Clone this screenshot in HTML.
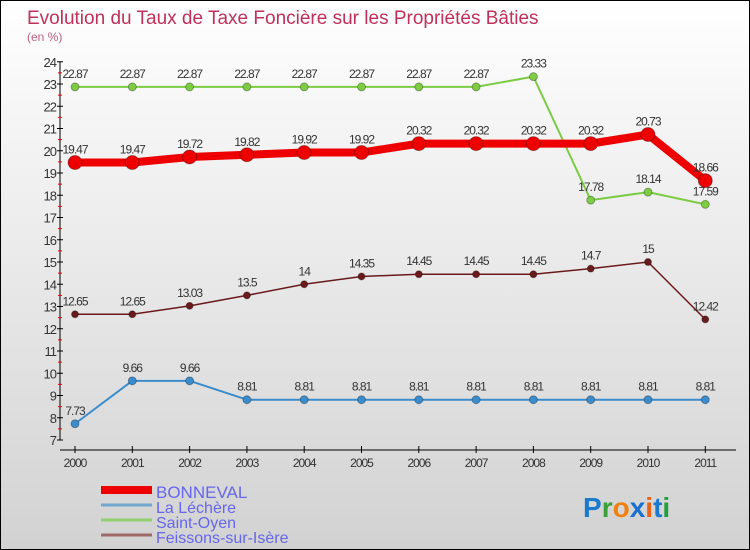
<!DOCTYPE html>
<html><head><meta charset="utf-8"><style>
body{margin:0}
#c{width:748px;height:548px;border:1px solid #000;background:linear-gradient(#fff,#d2d2d2);position:relative;overflow:hidden;font-family:"Liberation Sans",sans-serif}
</style></head><body>
<div id="c">
<svg id="s" width="748" height="548"></svg>
</div>
<script>
const years=["2000","2001","2002","2003","2004","2005","2006","2007","2008","2009","2010","2011"];
const bonneval=[19.47,19.47,19.72,19.82,19.92,19.92,20.32,20.32,20.32,20.32,20.73,18.66];
const lecheres=[7.73,9.66,9.66,8.81,8.81,8.81,8.81,8.81,8.81,8.81,8.81,8.81];
const saintOyen=[22.87,22.87,22.87,22.87,22.87,22.87,22.87,22.87,23.33,17.78,18.14,17.59];
const feissons=[12.65,12.65,13.03,13.5,14,14.35,14.45,14.45,14.45,14.7,15,12.42];
const yTicks=[7,8,9,10,11,12,13,14,15,16,17,18,19,20,21,22,23,24];
const s=document.getElementById('s');const NS='http://www.w3.org/2000/svg';
function x(i){return 74+i*57.3;}
function y(v){return 439-(v-7)*22.25;}
function el(t,a,txt){const e=document.createElementNS(NS,t);for(const k in a)e.setAttribute(k,a[k]);if(txt!==undefined)e.textContent=txt;s.appendChild(e);return e;}
let e;
e=el('text',{x:26,y:23,fill:'#c0305a','font-size':19},'Evolution du Taux de Taxe Foncière sur les Propriétés Bâties');

e=el('text',{x:26,y:40,fill:'#c06080','font-size':12},'(en %)');

e=el('line',{x1:59,y1:y(24),x2:59,y2:y(7),stroke:'#000'});

yTicks.forEach(v=>{el('line',{x1:56,x2:62,y1:y(v),y2:y(v),stroke:'#000'});
 if(v<24)el('line',{x1:57,x2:61,y1:y(v+0.5),y2:y(v+0.5),stroke:'#e00'});
 e=el('text',{x:55,y:y(v)+5,'text-anchor':'end','font-size':13,fill:'#333','letter-spacing':'-1'},v);
 });
e=el('line',{x1:59,y1:449,x2:735,y2:449,stroke:'#000'});

years.forEach((yr,i)=>{el('line',{x1:x(i),x2:x(i),y1:445,y2:452,stroke:'#000'});
 e=el('text',{x:x(i),y:466,'text-anchor':'middle','font-size':12,fill:'#333','letter-spacing':'-1'},yr);
 });
function series(d,color,w,r,name){
 e=el('polyline',{points:d.map((v,i)=>x(i)+','+y(v)).join(' '),fill:'none',stroke:color,'stroke-width':w,'stroke-linejoin':'round'});
 
 d.forEach((v,i)=>{e=el('circle',{cx:x(i),cy:y(v),r:r,fill:color,stroke:'rgba(0,0,0,0.3)'});
  
  e=el('text',{x:x(i),y:y(v)-9,'text-anchor':'middle','font-size':12,fill:'#333','letter-spacing':'-1'},v);
  });
}
series(lecheres,'#3a8ccc',2,4,'la-lechere');
series(saintOyen,'#7ccc44',2,4,'saint-oyen');
series(feissons,'#6a1a1a',1.5,3.5,'feissons');
series(bonneval,'#ee0000',8,7,'bonneval');
const leg=[['BONNEVAL','#ee0000',8,493],['La Léchère','#70a8d0',3,508],['Saint-Oyen','#90d070',3,523],['Feissons-sur-Isère','#a06a6a',3,538]];
leg.forEach(l=>{e=el('line',{x1:100,x2:151,y1:l[3]-4,y2:l[3]-4,stroke:l[1],'stroke-width':l[2]});
 
 e=el('text',{x:155,y:l[3]+4,'font-size':l[0]=='BONNEVAL'?17:16,fill:'#6666ee'},l[0]);
 });
const logo=[['P','#1a7ad0'],['r','#3aa03a'],['o','#f08010'],['x','#1a70d0'],['i','#f06010'],['t','#1a7ad0'],['i','#20a040']];
e=el('text',{x:582,y:516,'font-size':28,'font-weight':'bold'});

logo.forEach(c=>{const t=document.createElementNS(NS,'tspan');t.setAttribute('fill',c[1]);t.textContent=c[0];e.appendChild(t);});
</script>
</body></html>
